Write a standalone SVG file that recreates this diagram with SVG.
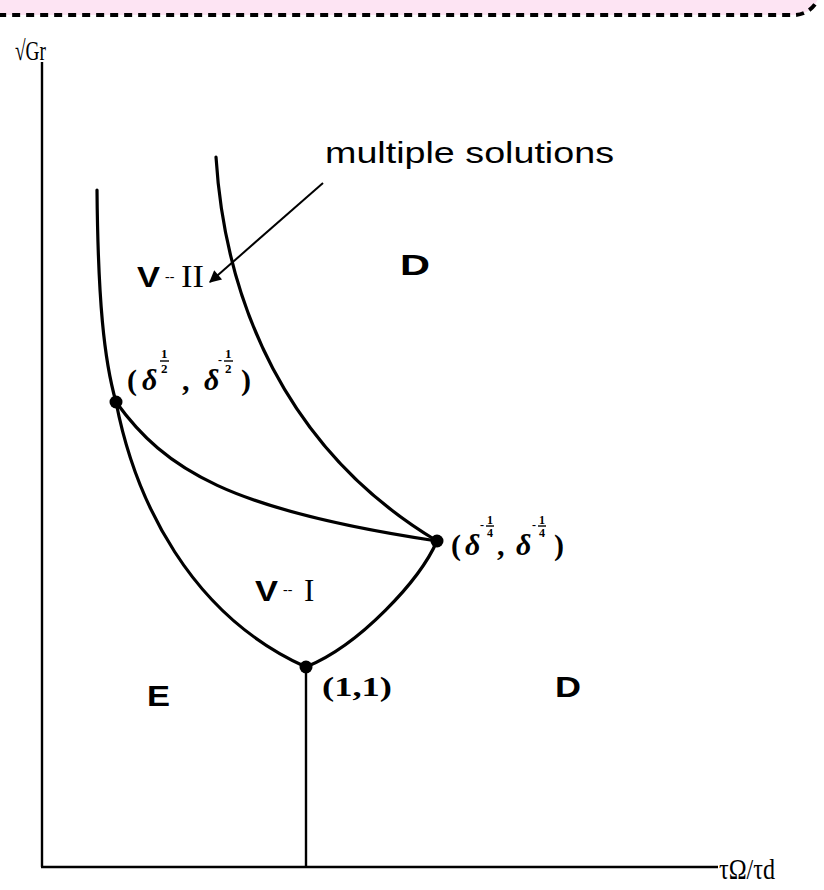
<svg xmlns="http://www.w3.org/2000/svg" width="824" height="890" viewBox="0 0 824 890">
<style>
.axis{stroke:#000;stroke-width:2.4;fill:none}
.curve{stroke:#000;stroke-width:3.2;fill:none;stroke-linecap:round}
.sans{font-family:"Liberation Sans",Arial,sans-serif;fill:#000}
.bsans{font-family:"Liberation Sans",Arial,sans-serif;font-weight:bold;fill:#000}
.serif{font-family:"Liberation Serif","Times New Roman",serif;fill:#000}
.bserif{font-family:"Liberation Serif","Times New Roman",serif;font-weight:bold;fill:#000}
.dot{fill:#000}
.frac{stroke:#000;stroke-width:1.4}
</style>
<defs>
<marker id="arr" viewBox="0 0 10 10" refX="9" refY="5" markerWidth="16" markerHeight="12" orient="auto" markerUnits="userSpaceOnUse">
<path d="M0,0 L10,5 L0,10 Z" fill="#000"/>
</marker>
</defs>
<rect width="824" height="890" fill="#fff"/>
<g id="banner">
<rect x="-40" y="-40" width="860" height="55" rx="26" fill="#fde4f3" stroke="#000" stroke-width="4" stroke-dasharray="8,6"/>
</g>
<g id="axes">
<line class="axis" x1="42" y1="62" x2="42" y2="867"/>
<line class="axis" x1="41" y1="867" x2="718" y2="867"/>
<text class="serif" x="15" y="60" font-size="28" textLength="31" lengthAdjust="spacingAndGlyphs">√Gr</text>
<text class="serif" x="719" y="879" font-size="30" textLength="56" lengthAdjust="spacingAndGlyphs">τΩ/τd</text>
</g>
<g id="connectors">
<path class="curve" d="M97,190 C98,300 104,360 116,402"/>
<path class="curve" d="M116,402 C135,500 190,615 306,667"/>
<path class="curve" d="M216,157 C225,300 285,450 437,541"/>
<path class="curve" d="M116,402 C165,470 230,510 437,541"/>
<path class="curve" d="M437,541 C420,580 360,645 306,667"/>
<line class="axis" x1="306" y1="667" x2="306" y2="867"/>
<line x1="323" y1="183" x2="210" y2="282" stroke="#000" stroke-width="2" marker-end="url(#arr)"/>
</g>
<g id="points">
<circle class="dot" cx="116" cy="402" r="6.5"/>
<circle class="dot" cx="437" cy="541" r="6.5"/>
<circle class="dot" cx="306" cy="667" r="6.5"/>
</g>
<g id="label-multiple">
<text class="sans" x="325" y="163" font-size="30" textLength="289" lengthAdjust="spacingAndGlyphs">multiple solutions</text>
</g>
<g id="label-D1"><text class="bsans" x="400" y="275" font-size="30" textLength="30" lengthAdjust="spacingAndGlyphs">D</text></g>
<g id="label-D2"><text class="bsans" x="555" y="697" font-size="30" textLength="26" lengthAdjust="spacingAndGlyphs">D</text></g>
<g id="label-E"><text class="bsans" x="147" y="706" font-size="30" textLength="23" lengthAdjust="spacingAndGlyphs">E</text></g>
<g id="label-VII">
<text class="bsans" x="137" y="287" font-size="29" textLength="23" lengthAdjust="spacingAndGlyphs">V</text>
<text class="serif" x="165" y="281" font-size="14">--</text>
<text class="serif" x="181" y="287" font-size="31" textLength="23" lengthAdjust="spacingAndGlyphs">II</text>
</g>
<g id="label-VI">
<text class="bsans" x="255" y="601" font-size="29" textLength="23" lengthAdjust="spacingAndGlyphs">V</text>
<text class="serif" x="283" y="594" font-size="14">--</text>
<text class="serif" x="304" y="601" font-size="31">I</text>
</g>
<g id="label-p1">
<text class="bserif" x="127" y="390" font-size="30">(</text>
<text class="bserif" x="142" y="390" font-size="30" font-style="italic">δ</text>
<text class="bserif" x="161" y="358" font-size="13">1</text>
<line class="frac" x1="160" y1="361" x2="169" y2="361"/>
<text class="bserif" x="161" y="373" font-size="13">2</text>
<text class="bserif" x="182" y="390" font-size="30">,</text>
<text class="bserif" x="204" y="390" font-size="30" font-style="italic">δ</text>
<text class="bserif" x="218" y="364" font-size="12">-</text>
<text class="bserif" x="225" y="358" font-size="13">1</text>
<line class="frac" x1="224" y1="361" x2="233" y2="361"/>
<text class="bserif" x="225" y="373" font-size="13">2</text>
<text class="bserif" x="241" y="390" font-size="30">)</text>
</g>
<g id="label-p2">
<text class="bserif" x="451" y="555" font-size="30">(</text>
<text class="bserif" x="465" y="555" font-size="30" font-style="italic">δ</text>
<text class="bserif" x="480" y="529" font-size="12">-</text>
<text class="bserif" x="487" y="524" font-size="12">1</text>
<line class="frac" x1="486" y1="526" x2="494" y2="526"/>
<text class="bserif" x="487" y="537" font-size="12">4</text>
<text class="bserif" x="497" y="555" font-size="30">,</text>
<text class="bserif" x="516" y="555" font-size="30" font-style="italic">δ</text>
<text class="bserif" x="532" y="529" font-size="12">-</text>
<text class="bserif" x="539" y="524" font-size="12">1</text>
<line class="frac" x1="538" y1="526" x2="546" y2="526"/>
<text class="bserif" x="539" y="537" font-size="12">4</text>
<text class="bserif" x="554" y="555" font-size="30">)</text>
</g>
<g id="label-p3">
<text class="bserif" x="322" y="696" font-size="28" textLength="70" lengthAdjust="spacingAndGlyphs">(1,1)</text>
</g>
</svg>
